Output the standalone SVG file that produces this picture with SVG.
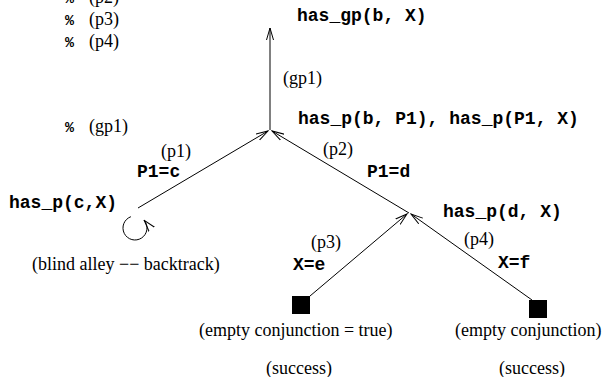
<svg xmlns="http://www.w3.org/2000/svg" width="607" height="377" viewBox="0 0 607 377">
<style>
.t{font-family:"Liberation Serif","Times New Roman",serif;font-size:18px;fill:#000}
.m{font-family:"Liberation Mono","Courier New",monospace;font-size:18px;font-weight:bold;fill:#000}
.pc{font-family:"Liberation Mono","Courier New",monospace;font-size:15px;font-weight:bold;fill:#000}
.e{fill:none;stroke:#000;stroke-width:1}
</style>
<defs>
<marker id="ah" markerUnits="userSpaceOnUse" markerWidth="13" markerHeight="9" refX="12" refY="4.5" orient="auto" viewBox="0 0 13 9">
<path d="M0,1 L12,4.5 L0,8" fill="none" stroke="#000" stroke-width="1"/>
</marker>
</defs>
<rect width="607" height="377" fill="#fff"/>
<g id="comments">
<text class="pc" x="65" y="3">%</text><text class="t" x="89" y="3">(p2)</text>
<text class="pc" x="65" y="25">%</text><text class="t" x="89" y="25">(p3)</text>
<text class="pc" x="65" y="47">%</text><text class="t" x="89" y="47">(p4)</text>
<text class="pc" x="65" y="132">%</text><text class="t" x="89" y="132">(gp1)</text>
</g>
<g id="connectors">
<path d="M270,130 L270,28" fill="none" stroke="#808080" stroke-width="2" marker-end="url(#ah)"/>
<path class="e" d="M138,208 L268,131" marker-end="url(#ah)"/>
<path class="e" d="M409,213 L272,131" marker-end="url(#ah)"/>
<path class="e" d="M310,296 L407,214" marker-end="url(#ah)"/>
<path class="e" d="M532,300 L411,214" marker-end="url(#ah)"/>
<g id="edge-labels">
<text class="t" x="283" y="84">(gp1)</text>
<text class="t" x="161" y="157">(p1)</text>
<text class="m" x="137" y="177">P1=c</text>
<text class="t" x="323" y="155">(p2)</text>
<text class="m" x="367" y="177">P1=d</text>
<text class="t" x="311" y="248">(p3)</text>
<text class="m" x="293" y="270">X=e</text>
<text class="t" x="464" y="245">(p4)</text>
<text class="m" x="498" y="268">X=f</text>
</g>
</g>
<g id="node-goal">
<text class="m" x="297" y="21">has_gp(b, X)</text>
</g>
<g id="node-b">
<text class="m" x="298" y="124">has_p(b, P1), has_p(P1, X)</text>
</g>
<g id="node-c">
<text class="m" x="9" y="208">has_p(c,X)</text>
<path class="e" d="M130.9,216.7 A12,12 0 1 0 144.2,220.3" marker-end="url(#ah)"/>
<text class="t" x="32" y="270">(blind alley −− backtrack)</text>
</g>
<g id="node-d">
<text class="m" x="443" y="217">has_p(d, X)</text>
</g>
<g id="node-e">
<rect x="292" y="296" width="18" height="18" fill="#000"/>
<text class="t" x="199" y="336">(empty conjunction = true)</text>
<text class="t" x="266" y="374">(success)</text>
</g>
<g id="node-f">
<rect x="529" y="300" width="18" height="18" fill="#000"/>
<text class="t" x="455" y="336">(empty conjunction)</text>
<text class="t" x="499" y="374">(success)</text>
</g>
</svg>
